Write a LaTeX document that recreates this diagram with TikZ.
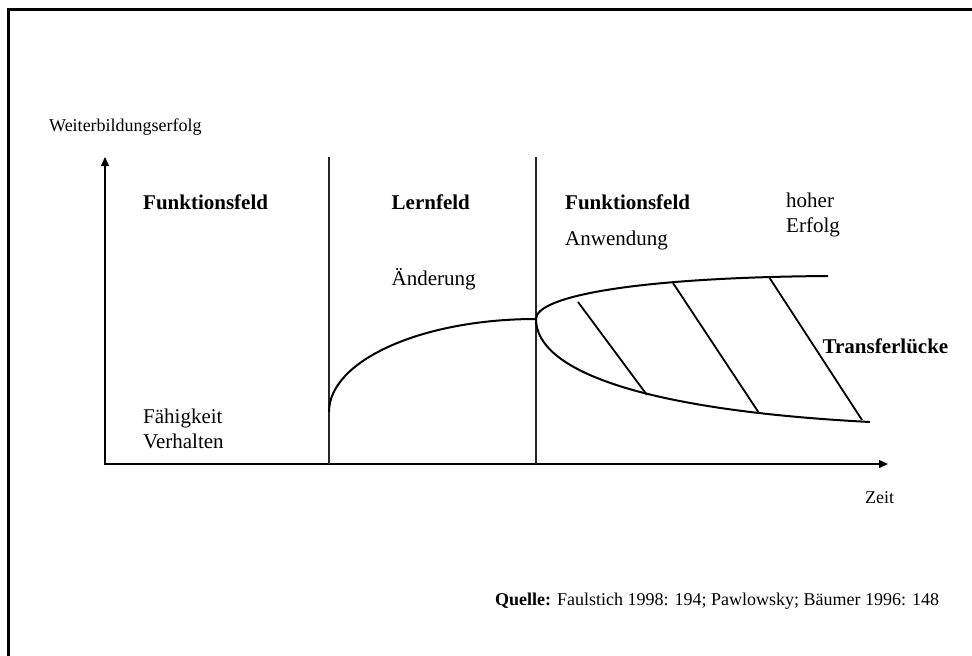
\documentclass[tikz,border=0pt]{standalone}
\usepackage{fontspec}
\setmainfont{Liberation Serif}
\usetikzlibrary{arrows.meta}

\tikzset{
  frameline/.style={line width=2.4pt, black},
  axisline/.style={line width=1.4pt, black, -{Triangle[length=9pt,width=8pt]}},
  divider/.style={line width=1.3pt, black!85},
  curveline/.style={line width=2pt, black},
  hatchline/.style={line width=1.8pt, black},
  bigtext/.style={anchor=base west, inner sep=0pt, font=\fontsize{21}{25}\selectfont},
  bigbold/.style={bigtext, font=\fontsize{21}{25}\selectfont\bfseries},
  smalltext/.style={anchor=base west, inner sep=0pt, font=\fontsize{18}{21}\selectfont}
}

\begin{document}
\begin{tikzpicture}[x=1pt, y=-1pt]
  \useasboundingbox (0,0) rectangle (972,656);
  \clip (0,0) rectangle (972,656);

  % outer frame (continues past the right and bottom edges)
  \draw[frameline] (8.5,700) -- (8.5,9.5) -- (1000,9.5);

  % axes
  \coordinate (O) at (105,464);
  \coordinate (ytop) at (105,157);
  \coordinate (xend) at (888,464);
  \draw[axisline] (O) -- (ytop);
  \draw[axisline] (104,464) -- (xend);

  % field dividers
  \coordinate (d1top) at (329,157);
  \coordinate (d1bot) at (329,464);
  \coordinate (d2top) at (536,157);
  \coordinate (d2bot) at (536,464);
  \draw[divider] (d1top) -- (d1bot);
  \draw[divider] (d2top) -- (d2bot);

  % learning curve
  \coordinate (lstart) at (329,412);
  \coordinate (lend) at (536,319);
  \draw[curveline] (lstart) .. controls (329,360.6) and (421.7,319) .. (lend);

  % high success and actual transfer
  \coordinate (hiend) at (828,276);
  \coordinate (loend) at (870,422);
  \draw[curveline] (lend) .. controls (536,297) and (630,277.5) .. (hiend);
  \draw[curveline] (lend) .. controls (536,370) and (640,410) .. (loend);

  % transfer gap hatching
  \coordinate (h1a) at (578,302);  \coordinate (h1b) at (647,395);
  \coordinate (h2a) at (673,283);  \coordinate (h2b) at (759,413);
  \coordinate (h3a) at (769,277);  \coordinate (h3b) at (862,420);
  \draw[hatchline] (h1a) -- (h1b);
  \draw[hatchline] (h2a) -- (h2b);
  \draw[hatchline] (h3a) -- (h3b);

  % labels
  \node[smalltext] (ylabel) at (49,131) {Weiterbildungserfolg};
  \node[smalltext] (xlabel) at (865,503) {Zeit};

  \node[bigbold] (f1) at (143,209) {Funktionsfeld};
  \node[bigbold] (lf) at (391.5,209) {Lernfeld};
  \node[bigbold] (f2) at (565,209) {Funktionsfeld};
  \node[bigtext] (hoher) at (786,207) {hoher};
  \node[bigtext] (erfolg) at (786,232.5) {Erfolg};
  \node[bigtext] (anw) at (565,245) {Anwendung};
  \node[bigtext] (aend) at (391.5,285) {Änderung};
  \node[bigbold] (gap) at (822.5,353) {Transferlücke};
  \node[bigtext] (faeh) at (143,423) {Fähigkeit};
  \node[bigtext] (verh) at (143,448) {Verhalten};

  \node[smalltext] (src) at (495,605.5) {\textbf{Quelle:} Faulstich 1998: 194; Pawlowsky; Bäumer 1996: 148};
\end{tikzpicture}
\end{document}
